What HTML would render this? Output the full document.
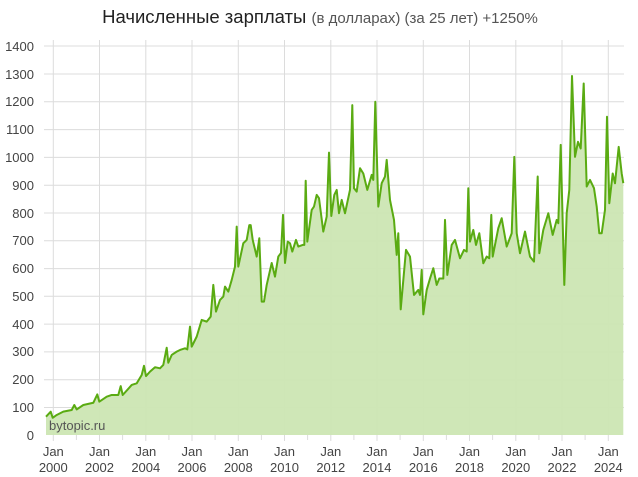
<!DOCTYPE html>
<html><head><meta charset="utf-8"><style>
body{margin:0;background:#fff;}
svg{display:block;font-family:"Liberation Sans","Noto Sans CJK SC",sans-serif;}
</style></head><body>
<svg width="638" height="477" viewBox="0 0 638 477">
<text x="320" y="23" text-anchor="middle" fill="#222" font-size="18.5">Начисленные зарплаты <tspan font-size="15" fill="#555">(в долларах) (за 25 лет) +1250%</tspan></text>
<g stroke="#dcdcdc" stroke-width="1">
<line x1="44" x2="624" y1="46" y2="46"/><line x1="44" x2="624" y1="74" y2="74"/><line x1="44" x2="624" y1="101.8" y2="101.8"/><line x1="44" x2="624" y1="129.6" y2="129.6"/><line x1="44" x2="624" y1="157.4" y2="157.4"/><line x1="44" x2="624" y1="185.2" y2="185.2"/><line x1="44" x2="624" y1="213" y2="213"/><line x1="44" x2="624" y1="240.8" y2="240.8"/><line x1="44" x2="624" y1="268.6" y2="268.6"/><line x1="44" x2="624" y1="296.3" y2="296.3"/><line x1="44" x2="624" y1="324.1" y2="324.1"/><line x1="44" x2="624" y1="351.9" y2="351.9"/><line x1="44" x2="624" y1="379.7" y2="379.7"/><line x1="44" x2="624" y1="407.5" y2="407.5"/>
<line x1="53.3" x2="53.3" y1="40" y2="441"/><line x1="99.5" x2="99.5" y1="40" y2="441"/><line x1="145.8" x2="145.8" y1="40" y2="441"/><line x1="192" x2="192" y1="40" y2="441"/><line x1="238.3" x2="238.3" y1="40" y2="441"/><line x1="284.5" x2="284.5" y1="40" y2="441"/><line x1="330.8" x2="330.8" y1="40" y2="441"/><line x1="377" x2="377" y1="40" y2="441"/><line x1="423.3" x2="423.3" y1="40" y2="441"/><line x1="469.5" x2="469.5" y1="40" y2="441"/><line x1="515.8" x2="515.8" y1="40" y2="441"/><line x1="562" x2="562" y1="40" y2="441"/><line x1="608.3" x2="608.3" y1="40" y2="441"/>
<line x1="76.4" x2="76.4" y1="435" y2="440"/><line x1="122.6" x2="122.6" y1="435" y2="440"/><line x1="168.9" x2="168.9" y1="435" y2="440"/><line x1="215.1" x2="215.1" y1="435" y2="440"/><line x1="261.4" x2="261.4" y1="435" y2="440"/><line x1="307.6" x2="307.6" y1="435" y2="440"/><line x1="353.9" x2="353.9" y1="435" y2="440"/><line x1="400.1" x2="400.1" y1="435" y2="440"/><line x1="446.4" x2="446.4" y1="435" y2="440"/><line x1="492.6" x2="492.6" y1="435" y2="440"/><line x1="538.9" x2="538.9" y1="435" y2="440"/><line x1="585.1" x2="585.1" y1="435" y2="440"/>
</g>
<g transform="translate(0,435) scale(1,-0.2779)">
<polygon fill="#cce6b3" fill-opacity="0.95" points="46,0 46,66 50.7,84 52.7,62 56.7,72 63.3,84 71.7,90 74.3,108 76.7,92 83.3,108 93.3,116 97.3,146 99.3,120 106.7,138 111.7,144 118.3,144 120.7,176 122.7,144 131.7,180 136.7,186 141.7,216 144,249 146,212 150,228 155,244 160,240 163.3,252 166.7,314 168.3,260 171.7,288 176.7,300 180,306 185,312 187.3,308 190,390 191.7,318 196.7,354 201.7,414 206.7,408 210.7,426 213.3,540 216,444 220,486 223.3,498 225,534 228.3,516 231.7,558 235,606 236.7,750 238.3,606 243.3,690 246.7,702 249.3,755 250.7,755 252.7,702 256.7,642 259.3,708 261.7,480 264,480 266.7,540 271.7,619 275,570 278.3,642 281,655 283,792 285,619 287.7,696 290,690 292.3,660 296,702 298.3,678 302.7,684 304.3,684 305.7,915 307.3,696 311.7,810 314,822 316.7,864 319,852 323.3,732 326.7,786 329,1016 331.3,788 334.3,864 336.7,882 339,798 341.7,846 345,798 350,882 352.3,1187 354,888 356.7,876 360,960 363.3,941 367.3,882 371.7,936 373.3,918 375.3,1199 378.3,822 381.7,906 385,930 386.7,990 390,846 394,774 396.7,648 398.3,726 400.7,452 406,666 410,642 414,504 418.3,522 420,504 421.7,594 423.3,434 426.7,522 430,563 433.3,600 436.7,540 439.3,563 443.3,563 445,774 447.3,576 451.7,684 455,702 460,636 464,666 466.7,660 468.3,888 470,696 473.3,738 476,684 479.3,726 483.3,618 486.7,642 489.3,636 491.3,792 492.7,642 498.3,744 501.7,780 506.7,678 511.7,726 514.3,1001 516.7,726 520,654 525,732 530,642 534,624 537.7,930 539.3,654 543.3,738 548.3,798 552.7,720 556.7,774 558.3,762 560.7,1044 564.3,540 566.7,798 569.3,882 572,1292 575,1001 578,1055 580.7,1031 583.7,1265 586.7,894 590,918 594,888 596.7,822 599.3,726 601.7,726 605,810 607,1145 609.3,834 612.7,941 615,906 618.7,1037 621.7,941 623.3,906 623.3,0"/>
<polyline fill="none" stroke="#5aab12" stroke-width="2" vector-effect="non-scaling-stroke" stroke-linejoin="round" points="46,66 50.7,84 52.7,62 56.7,72 63.3,84 71.7,90 74.3,108 76.7,92 83.3,108 93.3,116 97.3,146 99.3,120 106.7,138 111.7,144 118.3,144 120.7,176 122.7,144 131.7,180 136.7,186 141.7,216 144,249 146,212 150,228 155,244 160,240 163.3,252 166.7,314 168.3,260 171.7,288 176.7,300 180,306 185,312 187.3,308 190,390 191.7,318 196.7,354 201.7,414 206.7,408 210.7,426 213.3,540 216,444 220,486 223.3,498 225,534 228.3,516 231.7,558 235,606 236.7,750 238.3,606 243.3,690 246.7,702 249.3,755 250.7,755 252.7,702 256.7,642 259.3,708 261.7,480 264,480 266.7,540 271.7,619 275,570 278.3,642 281,655 283,792 285,619 287.7,696 290,690 292.3,660 296,702 298.3,678 302.7,684 304.3,684 305.7,915 307.3,696 311.7,810 314,822 316.7,864 319,852 323.3,732 326.7,786 329,1016 331.3,788 334.3,864 336.7,882 339,798 341.7,846 345,798 350,882 352.3,1187 354,888 356.7,876 360,960 363.3,941 367.3,882 371.7,936 373.3,918 375.3,1199 378.3,822 381.7,906 385,930 386.7,990 390,846 394,774 396.7,648 398.3,726 400.7,452 406,666 410,642 414,504 418.3,522 420,504 421.7,594 423.3,434 426.7,522 430,563 433.3,600 436.7,540 439.3,563 443.3,563 445,774 447.3,576 451.7,684 455,702 460,636 464,666 466.7,660 468.3,888 470,696 473.3,738 476,684 479.3,726 483.3,618 486.7,642 489.3,636 491.3,792 492.7,642 498.3,744 501.7,780 506.7,678 511.7,726 514.3,1001 516.7,726 520,654 525,732 530,642 534,624 537.7,930 539.3,654 543.3,738 548.3,798 552.7,720 556.7,774 558.3,762 560.7,1044 564.3,540 566.7,798 569.3,882 572,1292 575,1001 578,1055 580.7,1031 583.7,1265 586.7,894 590,918 594,888 596.7,822 599.3,726 601.7,726 605,810 607,1145 609.3,834 612.7,941 615,906 618.7,1037 621.7,941 623.3,906"/>
</g>
<text x="49" y="430" font-size="13" fill="#555">bytopic.ru</text>
<g font-size="13" fill="#444" text-anchor="end">
<text x="34" y="51">1400</text><text x="34" y="79">1300</text><text x="34" y="106">1200</text><text x="34" y="134">1100</text><text x="34" y="162">1000</text><text x="34" y="190">900</text><text x="34" y="218">800</text><text x="34" y="245">700</text><text x="34" y="273">600</text><text x="34" y="301">500</text><text x="34" y="329">400</text><text x="34" y="356">300</text><text x="34" y="384">200</text><text x="34" y="412">100</text><text x="34" y="440">0</text>
</g>
<g font-size="13" fill="#444" text-anchor="middle">
<text x="53.3" y="456">Jan</text><text x="53.3" y="472">2000</text>
<text x="99.5" y="456">Jan</text><text x="99.5" y="472">2002</text>
<text x="145.8" y="456">Jan</text><text x="145.8" y="472">2004</text>
<text x="192" y="456">Jan</text><text x="192" y="472">2006</text>
<text x="238.3" y="456">Jan</text><text x="238.3" y="472">2008</text>
<text x="284.5" y="456">Jan</text><text x="284.5" y="472">2010</text>
<text x="330.8" y="456">Jan</text><text x="330.8" y="472">2012</text>
<text x="377" y="456">Jan</text><text x="377" y="472">2014</text>
<text x="423.3" y="456">Jan</text><text x="423.3" y="472">2016</text>
<text x="469.5" y="456">Jan</text><text x="469.5" y="472">2018</text>
<text x="515.8" y="456">Jan</text><text x="515.8" y="472">2020</text>
<text x="562" y="456">Jan</text><text x="562" y="472">2022</text>
<text x="608.3" y="456">Jan</text><text x="608.3" y="472">2024</text>
</g>
</svg>
</body></html>
